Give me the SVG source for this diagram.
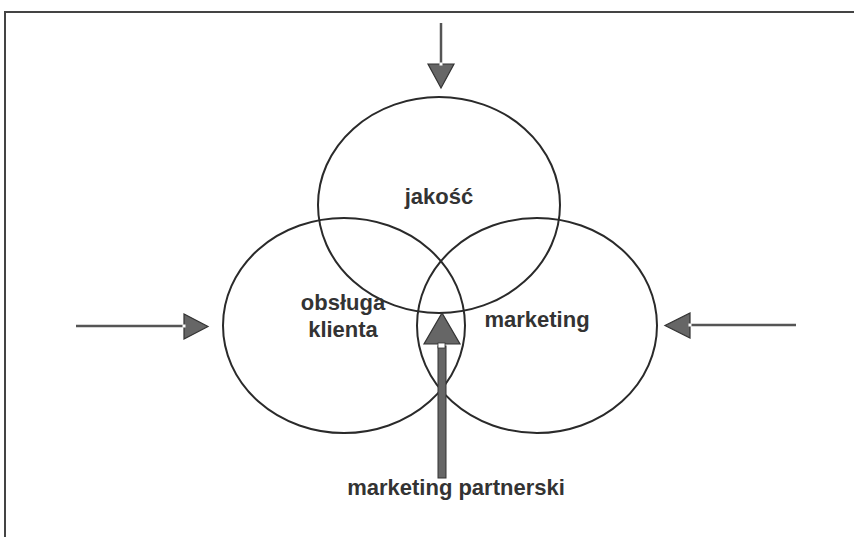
<svg xmlns="http://www.w3.org/2000/svg" width="854" height="537" viewBox="0 0 854 537">
  <style>
    .ring { fill: none; stroke: #2a2a2a; stroke-width: 2; }
    .lbl { font-family: "Liberation Sans", Arial, sans-serif; font-weight: bold; font-size: 22px; fill: #333; text-anchor: middle; }
    .shaft { stroke: #555; stroke-width: 2.5; fill: none; }
    .head { fill: #666; stroke: #333; stroke-width: 1.2; stroke-linejoin: miter; }
    .frame { stroke: #444; stroke-width: 2; fill: none; }
  </style>
  <rect width="854" height="537" fill="#fff"/>
  <path class="frame" d="M5,537 V12 H854"/>

  <g id="jakosc">
    <ellipse class="ring" cx="439" cy="205" rx="121" ry="108"/>
    <text class="lbl" x="439" y="204">jakość</text>
  </g>
  <g id="obsluga-klienta">
    <ellipse class="ring" cx="344" cy="325.5" rx="121" ry="107.5"/>
    <text class="lbl" x="343" y="310">obsługa</text>
    <text class="lbl" x="343" y="337">klienta</text>
  </g>
  <g id="marketing">
    <ellipse class="ring" cx="537" cy="325.5" rx="120" ry="107.5"/>
    <text class="lbl" x="537" y="327">marketing</text>
  </g>
  <g id="marketing-partnerski">
    <text class="lbl" x="456" y="495">marketing partnerski</text>
  </g>

  <g id="connectors">
    <g id="arrow-top">
      <line class="shaft" x1="441" y1="23" x2="441" y2="64"/>
      <polygon class="head" points="428,64 454,64 441,88"/>
      <rect x="439.5" y="62.5" width="3" height="3" fill="#fff"/>
    </g>
    <g id="arrow-left">
      <line class="shaft" x1="76" y1="326" x2="184" y2="326"/>
      <polygon class="head" points="184,314 184,339 208,326.5"/>
      <rect x="182.5" y="324.5" width="3" height="3" fill="#fff"/>
    </g>
    <g id="arrow-right">
      <line class="shaft" x1="796" y1="325" x2="690" y2="325"/>
      <polygon class="head" points="690,313 690,338 665,325.5"/>
      <rect x="688.5" y="323.5" width="3" height="3" fill="#fff"/>
    </g>
    <g id="arrow-bottom">
      <rect x="438" y="346" width="8" height="132" fill="#666" stroke="#333" stroke-width="1"/>
      <polygon class="head" points="424,344 460,344 442,313"/>
      <rect x="438" y="343" width="7" height="5" fill="#fff" stroke="#333" stroke-width="0.8"/>
    </g>
  </g>
</svg>
